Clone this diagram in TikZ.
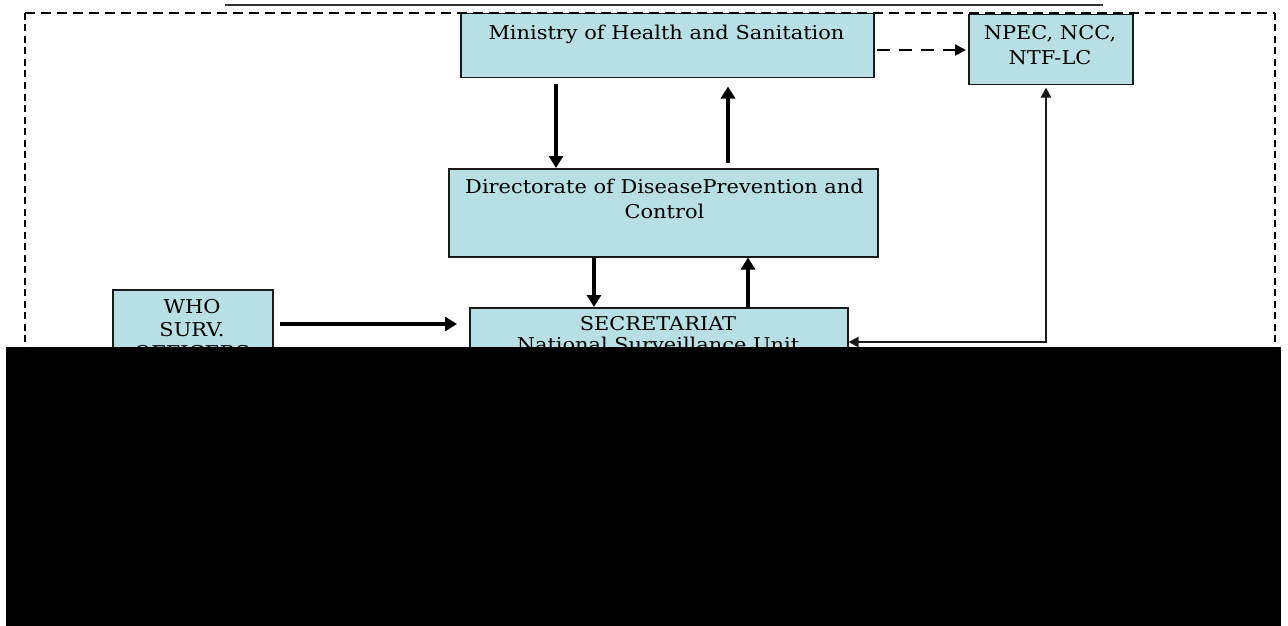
\documentclass[tikz,border=0pt]{standalone}
\usepackage{fontspec}
\setmainfont{DejaVu Serif}[FakeStretch=1.1]
\usetikzlibrary{arrows.meta,calc}
\definecolor{boxfill}{HTML}{B8DFE3}
\definecolor{inkline}{HTML}{1A1A1A}
\begin{document}
\begin{tikzpicture}[x=1pt,y=-1pt,
  box/.style={draw=inkline, line width=1.5pt, fill=boxfill, rectangle,
    inner sep=0pt, anchor=north west},
  txt/.style={font=\fontsize{19}{23}\selectfont, inner sep=0pt, anchor=base, text=black},
  bold arrow/.style={draw=black, line width=3.5pt, -{Triangle[width=14pt,length=12pt]}},
  thin arrow/.style={draw=inkline, line width=2.2pt},
  dash arrow/.style={draw=black, line width=2pt, dash pattern=on 13pt off 9pt,
    -{Triangle[width=11pt,length=11pt]}},
]
\useasboundingbox (0,0) rectangle (1288,626);

% rule above the frame
\draw[line width=1.5pt, black!80] (225,5) -- (1103,5);

% boxes
\node[box, minimum width=413pt, minimum height=64pt] (min) at (460,13) {};
\node[box, minimum width=164pt, minimum height=70pt] (npec) at (968,14) {};
\node[box, minimum width=429pt, minimum height=88pt] (dir) at (448,168) {};
\node[box, minimum width=378pt, minimum height=100pt] (sec) at (469,307) {};
\node[box, minimum width=160pt, minimum height=110pt] (who) at (112,289) {};

% box texts
\node[txt] (mint) at (666.5,40) {Ministry of Health and Sanitation};
\node[txt] (npec1) at (1050,40) {NPEC, NCC,};
\node[txt] (npec2) at (1050,64) {NTF-LC};
\node[txt] (dir1) at (664.5,193) {Directorate of DiseasePrevention and};
\node[txt] (dir2) at (664.5,218) {Control};
\node[txt] (sec1) at (658,330) {SECRETARIAT};
\node[txt] (sec2) at (658,351) {National Surveillance Unit};
\node[txt] (who1) at (192,313) {WHO};
\node[txt] (who2) at (192,336) {SURV.};
\node[txt] (who3) at (192,359) {OFFICERS};

% column and row guides for the connectors
\coordinate (xa) at (556,0);
\coordinate (xb) at (728,0);
\coordinate (xc) at (594,0);
\coordinate (xd) at (748,0);
\coordinate (xn) at (1046,0);
\coordinate (yw) at (0,324);
\coordinate (yd) at (0,50);
\coordinate (yn) at (0,342);

% connectors
\draw[bold arrow, shorten <=6pt] (min.south -| xa) -- (dir.north -| xa);
\draw[bold arrow, shorten <=5pt, shorten >=8pt] (dir.north -| xb) -- (min.south -| xb);
\draw[bold arrow] (dir.south -| xc) -- (sec.north -| xc);
\draw[bold arrow] (sec.north -| xd) -- (dir.south -| xd);
\draw[bold arrow, shorten <=6pt, shorten >=12pt] (who.east |- yw) -- (sec.west |- yw);
\draw[dash arrow, shorten <=2pt, shorten >=2pt] (min.east |- yd) -- (npec.west |- yd);
\draw[thin arrow, {Triangle[width=10pt,length=10pt]}-{Triangle[width=10pt,length=10pt]}]
  (sec.east |- yn) -| ([yshift=-2pt]npec.south -| xn);

% dashed frame
\draw[line width=1.5pt, dash pattern=on 10pt off 6pt] (25,13) -- (1275,13);
\draw[line width=1.5pt, dash pattern=on 7pt off 4.5pt] (25,13) -- (25,370);
\draw[line width=1.5pt, dash pattern=on 7pt off 4.5pt] (1275,13) -- (1275,370);

% solid black block over the lower part
\fill[black] (6,347) rectangle (1281,626);
\end{tikzpicture}
\end{document}
